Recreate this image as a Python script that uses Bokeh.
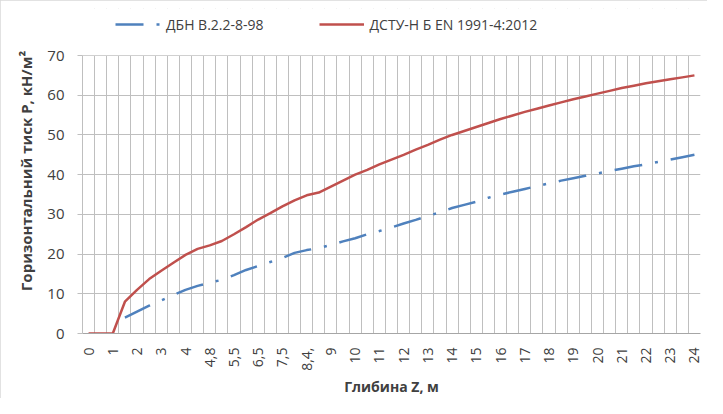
import math
from bokeh.plotting import figure
from bokeh.models import FixedTicker, Legend, LegendItem, ColumnDataSource, BoxAnnotation
from bokeh.embed import file_html
from bokeh.resources import INLINE

# Depth categories (every second one is labelled on the axis)
depth_categories = ["0", "0,5", "1", "1,5", "2", "2,5", "3", "3,5", "4", "4,4",
                    "4,8", "5,2", "5,5", "6", "6,5", "7", "7,5", "8", "8,4", "8,7",
                    "9", "9,5", "10", "10,5", "11", "11,5", "12", "12,5", "13", "13,5",
                    "14", "14,5", "15", "15,5", "16", "16,5", "17", "17,5", "18", "18,5",
                    "19", "19,5", "20", "20,5", "21", "21,5", "22", "22,5", "23", "23,5", "24"]

tick_labels = ["0", "1", "2", "3", "4", "4,8", "5,5", "6,5", "7,5", "8,4,", "9",
               "10", "11", "12", "13", "14", "15", "16", "17", "18", "19", "20",
               "21", "22", "23", "24"]

# ДСТУ-Н Б EN 1991-4:2012
dstu = [0, 0, 0, 8, 11, 13.7, 15.8, 17.8, 19.8, 21.3,
        22.2, 23.3, 25, 26.8, 28.7, 30.3, 32, 33.5, 34.8, 35.5,
        37, 38.5, 40, 41.2, 42.6, 43.8, 45, 46.3, 47.5, 48.8,
        50, 51, 52, 53, 54, 54.9, 55.8, 56.6, 57.4, 58.2,
        59, 59.7, 60.4, 61.1, 61.8, 62.4, 63, 63.5, 64, 64.5, 65]

# ДБН В.2.2-8-98 (no values for the first three categories)
dbn = [float("nan"), float("nan"), float("nan"), 4, 5.5, 7, 8.3, 9.7, 11, 12,
       12.8, 13.5, 14.7, 16, 17, 18, 19, 20.3, 21, 21.5,
       22.3, 23.2, 24, 25, 25.8, 26.7, 27.7, 28.6, 29.6, 30.5,
       31.6, 32.4, 33.2, 34.2, 35, 35.7, 36.4, 37.1, 37.8, 38.5,
       39.1, 39.7, 40.3, 40.9, 41.5, 42.1, 42.6, 43.2, 43.8, 44.4, 45]

y_ticks = [0, 10, 20, 30, 40, 50, 60, 70]

idx = list(range(len(depth_categories)))
src = ColumnDataSource(dict(x=idx, dstu=dstu, dbn=dbn))

FONT = "Open Sans"
TXT = "#404040"
GRID = "#bfbfbf"

# frame extends above 70 to host the legend; that strip is masked white
y_top = y_ticks[-1] + 11.84

p = figure(width=707, height=398, output_backend="svg", toolbar_location=None,
           x_range=(-0.5, len(idx) - 0.5), y_range=(y_ticks[0], y_top),
           min_border_left=82, min_border_right=7, min_border_top=8, min_border_bottom=65)
p.outline_line_color = None
p.background_fill_color = "white"
p.border_fill_color = "white"
p.styles = {"outline": "1px solid #d9d9d9", "outline-offset": "-1px"}

# grids
p.xgrid.ticker = FixedTicker(ticks=[i - 0.5 for i in range(len(idx) + 1)])
p.xgrid.grid_line_color = GRID
p.ygrid.ticker = FixedTicker(ticks=y_ticks)
p.ygrid.grid_line_color = GRID

mask = BoxAnnotation(bottom=y_ticks[-1], fill_color="white", fill_alpha=1.0,
                     line_color=None, level="underlay")
p.add_layout(mask)
top_mask_line = BoxAnnotation(bottom=y_ticks[-1], top=y_ticks[-1], fill_alpha=0,
                              line_color=GRID, line_width=1, level="underlay")
p.add_layout(top_mask_line)

r_blue = p.line("x", "dbn", source=src, line_color="#4F81BD", line_width=2.5,
                line_dash="28 13 3 13")
r_red = p.line("x", "dstu", source=src, line_color="#C0504D", line_width=2.5)

# x axis
tick_pos = list(range(0, len(idx), 2))
p.xaxis.ticker = FixedTicker(ticks=tick_pos)
p.xaxis.major_label_overrides = {i: lbl for i, lbl in zip(tick_pos, tick_labels)}
p.xaxis.major_label_orientation = math.pi / 2
p.xaxis.major_tick_line_color = None
p.xaxis.minor_tick_line_color = None
p.xaxis.axis_line_color = "#a6a6a6"
p.xaxis.major_label_standoff = 8
p.xaxis.major_label_text_font = FONT
p.xaxis.major_label_text_font_size = "14px"
p.xaxis.major_label_text_color = TXT
p.xaxis.axis_label = "Глибина Z, м"
p.xaxis.axis_label_text_font = FONT
p.xaxis.axis_label_text_font_size = "14px"
p.xaxis.axis_label_text_font_style = "bold"
p.xaxis.axis_label_text_color = TXT
p.xaxis.axis_label_standoff = 3

# y axis
p.yaxis.ticker = FixedTicker(ticks=y_ticks)
p.yaxis.bounds = (y_ticks[0], y_ticks[-1])
p.yaxis.axis_line_color = GRID
p.yaxis.major_tick_line_color = GRID
p.yaxis.major_tick_out = 5
p.yaxis.major_tick_in = 0
p.yaxis.minor_tick_line_color = None
p.yaxis.major_label_standoff = 13
p.yaxis.major_label_text_font = FONT
p.yaxis.major_label_text_font_size = "15px"
p.yaxis.major_label_text_color = TXT
p.yaxis.axis_label = "Горизонтальний тиск P, кН/м²"
p.yaxis.axis_label_text_font = FONT
p.yaxis.axis_label_text_font_size = "15px"
p.yaxis.axis_label_text_font_style = "bold"
p.yaxis.axis_label_text_color = TXT
p.yaxis.axis_label_standoff = 8

legend = Legend(items=[LegendItem(label="ДБН В.2.2-8-98", renderers=[r_blue]),
                       LegendItem(label="ДСТУ-Н Б EN 1991-4:2012", renderers=[r_red])],
                orientation="horizontal", location=(33, 299),
                border_line_color=None, background_fill_alpha=0,
                glyph_width=45, label_standoff=6, spacing=55, padding=0, margin=0,
                label_text_font=FONT, label_text_font_size="14px", label_text_color=TXT)
p.add_layout(legend)

open("out.html", "w").write(file_html(p, INLINE))
